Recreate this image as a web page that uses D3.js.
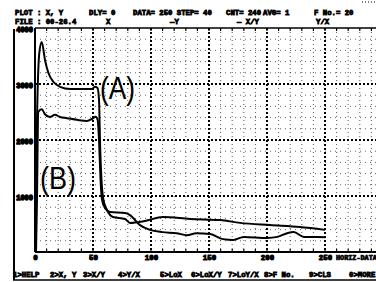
<!DOCTYPE html>
<html>
<head>
<meta charset="utf-8">
<script src="https://cdn.jsdelivr.net/npm/d3@7"></script>
<style>
  html, body { margin: 0; padding: 0; background: #fff; }
  svg { display: block; }
</style>
</head>
<body>
<svg id="chart" width="376" height="282"></svg>
<script>
// ---- data ----
const xTicks = [0, 50, 100, 150, 200, 250];
const yTicks = [1000, 2000, 3000, 4000];
const xMinor = d3.range(10, 300, 10);
const yMinor = d3.range(200, 4000, 200);

// curve A (upper plateau)
const tA = [0.5, 1.3, 3.7, 5.8, 8.6, 11.5, 15.8, 21.6, 30.2, 41.4, 49.1, 51.7, 53.9, 55.2, 56, 57.3, 59, 62.1, 67.2, 77.6, 81.9, 94.8, 110.3, 133.6, 159.5, 176.7, 202.6, 228.4, 250];
const vA = [0, 1820, 3550, 3750, 3430, 3200, 3040, 2950, 2910, 2910, 2910, 2950, 2930, 2710, 2000, 1290, 930, 750, 625, 590, 520, 555, 625, 590, 570, 520, 480, 445, 395];

// curve B (lower plateau)
const tB = [0.9, 1.7, 2.8, 5.8, 8.6, 12.9, 17.2, 21.6, 27.6, 36.2, 44.8, 49.1, 52.3, 54.0, 55.2, 56.5, 57.8, 60.3, 64.7, 77.6, 81.9, 90.5, 99.1, 110, 122, 131, 139, 151, 162, 171, 180, 200, 209, 218, 223, 232, 244, 250];
const vB = [0, 930, 2500, 2550, 2460, 2410, 2450, 2410, 2390, 2360, 2340, 2375, 2415, 2360, 2000, 1290, 930, 785, 715, 695, 660, 480, 395, 355, 335, 300, 335, 320, 230, 215, 270, 250, 270, 340, 355, 270, 270, 265];

const headerLine1 = [
  {t: "PLOT : X, Y", x: 15},
  {t: "DLY= 0", x: 89},
  {t: "DATA= 250 STEP= 40", x: 133},
  {t: "CNT= 240", x: 226},
  {t: "AVG= 1", x: 263},
  {t: "F No.= 20", x: 314}
];
const headerLine2 = [
  {t: "FILE : 00-26.4", x: 15},
  {t: "X", x: 106},
  {t: "\u2014Y", x: 170},
  {t: "\u2014 X/Y", x: 237},
  {t: "Y/X", x: 316}
];
const footer = [
  {t: "1>HELP", x: 13}, {t: "2>X, Y", x: 50}, {t: "3>X/Y", x: 83},
  {t: "4>Y/X", x: 118}, {t: "5>LoX", x: 160}, {t: "6>LoX/Y", x: 191},
  {t: "7>LoY/X", x: 228}, {t: "8>F No.", x: 264}, {t: "9>CLS", x: 309},
  {t: "0>MORE", x: 349}
];

// ---- drawing ----
const svg = d3.select("#chart");
svg.append("rect").attr("width", 376).attr("height", 282).attr("fill", "#fff");

const x = d3.scaleLinear().domain([0, 300]).range([35, 383]);
const y = d3.scaleLinear().domain([0, 4000]).range([252, 28]);

const mono = "'Liberation Mono', 'DejaVu Sans Mono', monospace";

// minor grid
svg.append("g").selectAll("line").data(xMinor.filter(d => d % 50 !== 0)).join("line")
  .attr("x1", d => x(d)).attr("x2", d => x(d)).attr("y1", y(4000)).attr("y2", y(0))
  .attr("stroke", "#222").attr("stroke-width", 1).attr("stroke-dasharray", "1,3").attr("opacity", 0.75);
svg.append("g").selectAll("line").data(yMinor.filter(d => d % 1000 !== 0)).join("line")
  .attr("x1", x(0)).attr("x2", 376).attr("y1", d => y(d)).attr("y2", d => y(d))
  .attr("stroke", "#222").attr("stroke-width", 1).attr("stroke-dasharray", "1,4").attr("opacity", 0.7);

// major grid
svg.append("g").selectAll("line").data(xTicks.filter(d => d > 0).concat([300])).join("line")
  .attr("x1", d => x(d)).attr("x2", d => x(d)).attr("y1", y(4000)).attr("y2", y(0))
  .attr("stroke", "#000").attr("stroke-width", 2).attr("stroke-dasharray", "2,2");
svg.append("g").selectAll("line").data(yTicks.filter(d => d < 4000)).join("line")
  .attr("x1", x(0)).attr("x2", 376).attr("y1", d => y(d)).attr("y2", d => y(d))
  .attr("stroke", "#000").attr("stroke-width", 2).attr("stroke-dasharray", "2,2");

// borders
svg.append("line").attr("x1", x(0)).attr("x2", 376).attr("y1", y(4000)).attr("y2", y(4000))
  .attr("stroke", "#000").attr("stroke-width", 1.5);
svg.append("line").attr("x1", x(0)).attr("x2", 376).attr("y1", y(0)).attr("y2", y(0))
  .attr("stroke", "#000").attr("stroke-width", 2);
svg.append("line").attr("x1", x(0)).attr("x2", x(0)).attr("y1", y(4000)).attr("y2", y(0))
  .attr("stroke", "#000").attr("stroke-width", 2);
// border ticks
svg.append("g").selectAll("line").data(xMinor).join("line")
  .attr("x1", d => x(d)).attr("x2", d => x(d)).attr("y1", y(4000)).attr("y2", y(4000) + 3)
  .attr("stroke", "#000").attr("stroke-width", 1.2);
svg.append("g").selectAll("line").data(xMinor).join("line")
  .attr("x1", d => x(d)).attr("x2", d => x(d)).attr("y1", y(0)).attr("y2", y(0) - 3)
  .attr("stroke", "#000").attr("stroke-width", 1.2);
// outer left frame and bottom rule
svg.append("line").attr("x1", 14).attr("x2", 14).attr("y1", 29).attr("y2", 280)
  .attr("stroke", "#000").attr("stroke-width", 2);
svg.append("line").attr("x1", 13).attr("x2", 376).attr("y1", 280).attr("y2", 280)
  .attr("stroke", "#000").attr("stroke-width", 1.5);
svg.append("line").attr("x1", 362).attr("x2", 376).attr("y1", 2).attr("y2", 2)
  .attr("stroke", "#000").attr("stroke-width", 1).attr("stroke-dasharray", "1,2");

// axes
const xAxis = svg.append("g").attr("transform", `translate(0,${y(0)})`)
  .call(d3.axisBottom(x).tickValues(xTicks).tickSize(0).tickPadding(3).tickFormat(d3.format("d")));
xAxis.select(".domain").remove();
xAxis.selectAll("text").attr("font-family", mono).attr("font-size", 7.5).attr("font-weight", "bold")
  .attr("fill", "#000").attr("stroke", "#000").attr("stroke-width", 0.9);

const yAxis = svg.append("g").attr("transform", `translate(33,0)`)
  .call(d3.axisLeft(y).tickValues(yTicks).tickSize(0).tickPadding(0).tickFormat(d3.format("d")));
yAxis.select(".domain").remove();
yAxis.selectAll("text").attr("font-family", mono).attr("font-size", 7).attr("font-weight", "bold")
  .attr("fill", "#000").attr("stroke", "#000").attr("stroke-width", 1.3).attr("dy", "0.5em");

svg.append("text").attr("x", 336).attr("y", 260).text("HORIZ-DATA")
  .attr("font-family", mono).attr("font-size", 6.8).attr("font-weight", "bold")
  .attr("fill", "#000").attr("stroke", "#000").attr("stroke-width", 0.7);

// header
function putText(arr, yy, size) {
  svg.append("g").selectAll("text").data(arr).join("text")
    .attr("x", d => d.x).attr("y", yy).text(d => d.t)
    .attr("font-family", mono).attr("font-size", size).attr("font-weight", "bold")
    .attr("fill", "#000").attr("stroke", "#000").attr("stroke-width", 0.8)
    .attr("xml:space", "preserve");
}
putText(headerLine1, 15, 7.3);
putText(headerLine2, 24, 7.3);
putText(footer, 277, 7.3);

// curves
const line = d3.line().x(d => x(d[0])).y(d => y(d[1])).curve(d3.curveMonotoneX);
svg.append("clipPath").attr("id", "plotclip").append("rect")
  .attr("x", x(0)).attr("y", y(4000)).attr("width", 376 - x(0)).attr("height", y(0) - y(4000));
svg.append("path").datum(d3.zip(tA, vA)).attr("d", line)
  .attr("fill", "none").attr("stroke", "#000").attr("stroke-width", 2).attr("clip-path", "url(#plotclip)");
svg.append("path").datum(d3.zip(tB, vB)).attr("d", line)
  .attr("fill", "none").attr("stroke", "#000").attr("stroke-width", 2).attr("clip-path", "url(#plotclip)");

// curve labels
const sans = "'Liberation Sans', Arial, sans-serif";
svg.append("text").attr("x", 100).attr("y", 99).text("(A)")
  .attr("font-family", sans).attr("font-size", 31).attr("textLength", 35).attr("lengthAdjust", "spacingAndGlyphs")
  .attr("fill", "#000");
svg.append("text").attr("x", 40).attr("y", 189).text("(B)")
  .attr("font-family", sans).attr("font-size", 32).attr("textLength", 36).attr("lengthAdjust", "spacingAndGlyphs")
  .attr("fill", "#000");
</script>
</body>
</html>
